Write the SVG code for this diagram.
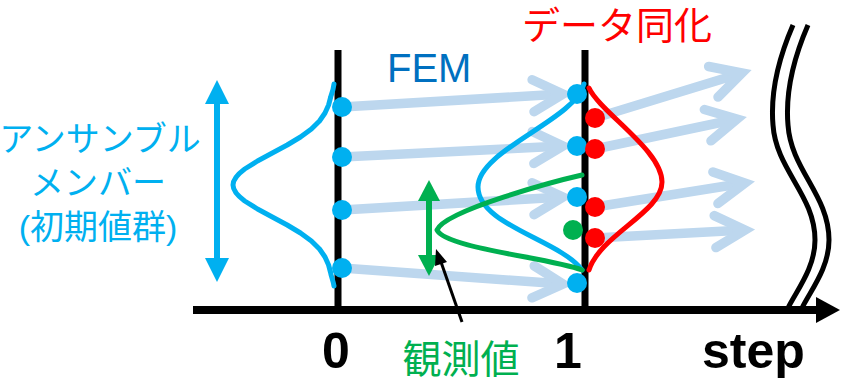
<svg xmlns="http://www.w3.org/2000/svg" width="846" height="390" viewBox="0 0 846 390">
<style>
.fem{fill:none;stroke:#BDD7EE;stroke-width:9.5;marker-end:url(#chev)}
.ax{stroke:#000;stroke-width:7;fill:none}
.curve{fill:none;stroke-width:5;stroke-linecap:round;stroke-linejoin:round}
.wave{fill:none;stroke:#000;stroke-width:5}
.jp{font-family:"Liberation Sans","Noto Sans CJK JP",sans-serif}
.num{font-family:"Liberation Sans",Arial,sans-serif;font-weight:bold;font-size:50px;fill:#000}
</style>
<defs>
<marker id="chev" markerUnits="userSpaceOnUse" orient="auto" markerWidth="60" markerHeight="60" refX="0" refY="0" viewBox="-40 -30 60 60" overflow="visible">
<path d="M-30,-16 L0,0 L-30,16" fill="none" stroke="#BDD7EE" stroke-width="9.5" stroke-linecap="round" stroke-linejoin="miter"/>
</marker>
</defs>

<g id="connectors">
<path class="fem" d="M342,107 L563,94"/>
<path class="fem" d="M342,157 L563,146"/>
<path class="fem" d="M342,210 L563,197"/>
<path class="fem" d="M342,268 L563,284"/>
<path class="fem" d="M595,118 L742,73"/>
<path class="fem" d="M595,149 L737,119"/>
<path class="fem" d="M595,207 L745,183"/>
<path class="fem" d="M595,238 L745,230"/>
</g>

<g id="break">
<path class="wave" d="M793,25 C780,55 770,90 773,125 C776,170 815,195 815,240 C815,268 797,290 788,308"/>
<path class="wave" d="M808,25 C795,55 785,90 788,125 C791,170 829,195 829,240 C829,268 811,290 802,308"/>
</g>

<g id="axis">
<line class="ax" x1="338" y1="50" x2="338" y2="310"/>
<line class="ax" x1="585" y1="50" x2="585" y2="310"/>
<line x1="193" y1="310" x2="820" y2="310" stroke="#000" stroke-width="8"/>
<polygon points="816,297 840,310 816,323" fill="#000"/>
</g>

<g id="ensemble0">
<path class="curve" stroke="#00B0F0" d="M334,84 C333,92 331,95 330.7,97 L328.6,105 325,113 319.5,121 311.4,129 300.5,137 287.2,145 272.3,153 257.5,161 244.7,169 C238,174 233,180 233,185 C233,190 238,196 244.7,201 L257.5,209 272.3,217 287.2,225 300.5,233 311.4,241 319.5,249 325,257 328.6,265 330.7,273 C331,276 333,280 334,286"/>
<circle cx="342" cy="107" r="10" fill="#00B0F0"/>
<circle cx="342" cy="157" r="10" fill="#00B0F0"/>
<circle cx="342" cy="210" r="10" fill="#00B0F0"/>
<circle cx="342" cy="268" r="10" fill="#00B0F0"/>
</g>

<g id="forecast1">
<path class="curve" stroke="#00B0F0" d="M584,84 C575,120 478,150 478,187 C478,225 560,240 582,270"/>
</g>

<g id="observation">
<path class="curve" stroke="#00B050" d="M582,175 C560,180 445,210 437,230 C445,248 550,258 582,270"/>
</g>

<g id="analysis1">
<path class="curve" stroke="#FF0000" d="M589,88 C600,112 662,150 662,182 C662,212 600,235 589,270"/>
</g>

<g id="dots1">
<circle cx="577" cy="94" r="10" fill="#00B0F0"/>
<circle cx="577" cy="146" r="10" fill="#00B0F0"/>
<circle cx="577" cy="197" r="10" fill="#00B0F0"/>
<circle cx="577" cy="283" r="10" fill="#00B0F0"/>
<circle cx="573" cy="230" r="10" fill="#00B050"/>
<circle cx="595" cy="118" r="10" fill="#FF0000"/>
<circle cx="595" cy="149" r="10" fill="#FF0000"/>
<circle cx="595" cy="207" r="10" fill="#FF0000"/>
<circle cx="595" cy="238" r="10" fill="#FF0000"/>
</g>

<g id="spread-arrow">
<line x1="217" y1="98" x2="217" y2="264" stroke="#00B0F0" stroke-width="6"/>
<polygon points="217,80 229,104 205,104" fill="#00B0F0"/>
<polygon points="217,282 229,258 205,258" fill="#00B0F0"/>
</g>

<g id="obs-arrow">
<line x1="429" y1="195" x2="429" y2="262" stroke="#00B050" stroke-width="6"/>
<polygon points="429,180 440,201 418,201" fill="#00B050"/>
<polygon points="429,276 440,255 418,255" fill="#00B050"/>
</g>

<g id="pointer">
<line x1="462" y1="322" x2="441" y2="262" stroke="#000" stroke-width="3"/>
<polygon points="436,249 447,262 435,266" fill="#000"/>
</g>

<g id="labels">
<text class="jp" x="100" y="151" font-size="34" fill="#00B0F0" text-anchor="middle">アンサンブル</text>
<text class="jp" x="98" y="195" font-size="34" fill="#00B0F0" text-anchor="middle">メンバー</text>
<text class="jp" x="98" y="239" font-size="34" fill="#00B0F0" text-anchor="middle">(初期値群)</text>
<text class="jp" x="387" y="82" font-size="40" fill="#0070C0">FEM</text>
<text class="jp" x="617" y="39" font-size="38" fill="#FF0000" text-anchor="middle">データ同化</text>
<text class="jp" x="461" y="373" font-size="39" fill="#00B050" text-anchor="middle">観測値</text>
<text class="num" x="336" y="368" text-anchor="middle">0</text>
<text class="num" x="568" y="368" text-anchor="middle">1</text>
<text class="num" x="702" y="368">step</text>
</g>
</svg>
